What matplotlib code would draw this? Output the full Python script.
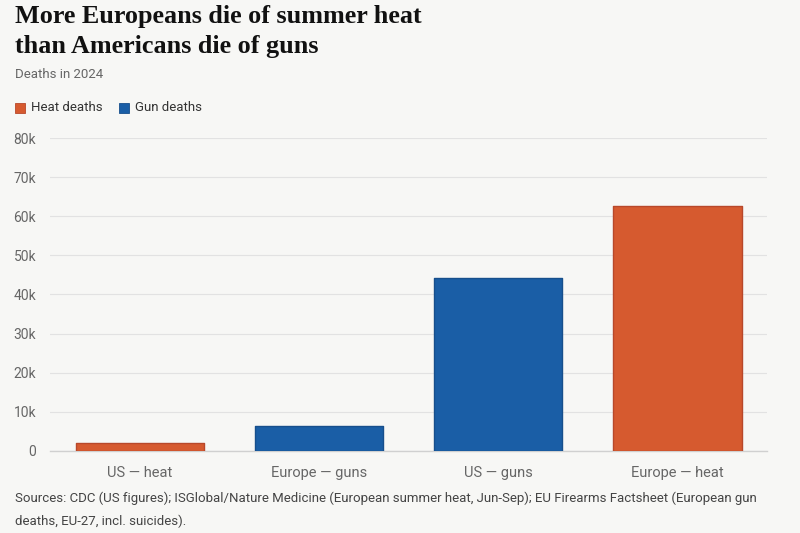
import matplotlib
matplotlib.use("Agg")
import matplotlib.pyplot as plt
from matplotlib.patches import Rectangle

# data
categories = ["US — heat", "Europe — guns", "US — guns", "Europe — heat"]
deaths = [2100, 6300, 44300, 62500]
kinds = ["heat", "gun", "gun", "heat"]
yticks = [0, 10000, 20000, 30000, 40000, 50000, 60000, 70000, 80000]
ytick_labels = ["0", "10k", "20k", "30k", "40k", "50k", "60k", "70k", "80k"]

colors = {"heat": "#d65a2f", "gun": "#1a5ea6"}
edges = {"heat": "#b8482a", "gun": "#174f8c"}
bg = "#f7f7f5"
sans = ["Liberation Sans Narrow", "Roboto", "DejaVu Sans"]

fig = plt.figure(figsize=(8, 5.33), dpi=100, facecolor=bg)
ax = fig.add_axes([0.0625, 0.154, 0.8965, 0.587])
ax.set_facecolor(bg)

x = range(len(categories))
ax.bar(x, deaths, width=0.715,
       color=[colors[k] for k in kinds],
       edgecolor=[edges[k] for k in kinds],
       linewidth=1.0, joinstyle="round", zorder=3)

ax.set_xlim(-0.5, len(categories) - 0.5)
ax.set_ylim(0, 80000)
ax.set_yticks(yticks)
ax.set_yticklabels(ytick_labels, family=sans, fontsize=10, color="#666666")
ax.set_xticks(list(x))
ax.set_xticklabels(categories, family=sans, fontsize=10.5, color="#666666")
ax.tick_params(axis="both", length=0)
ax.tick_params(axis="y", pad=10)
ax.tick_params(axis="x", pad=11)
ax.grid(axis="y", color="#e2e2e2", linewidth=0.8, zorder=0)
for s in ["top", "right", "left"]:
    ax.spines[s].set_visible(False)
ax.spines["bottom"].set_color("#d0d0d0")
ax.spines["bottom"].set_linewidth(1.0)

# titles
title_font = ["Liberation Serif", "DejaVu Serif"]
fig.text(15 / 800, 1 - 17 / 533, "More Europeans die of summer heat",
         family=title_font, weight="bold", fontsize=18.8, color="#111111",
         va="center", ha="left")
fig.text(15 / 800, 1 - 46 / 533, "than Americans die of guns",
         family=title_font, weight="bold", fontsize=18.8, color="#111111",
         va="center", ha="left")
fig.text(15 / 800, 1 - 75 / 533, "Deaths in 2024", family=["Roboto", "DejaVu Sans"],
         fontsize=9.5, color="#666666", va="center", ha="left")

# legend
for lx, lab, k in [(15, "Heat deaths", "heat"), (119, "Gun deaths", "gun")]:
    fig.patches.append(Rectangle((lx / 800, 1 - 113 / 533), 10 / 800, 10 / 533,
                                 transform=fig.transFigure, facecolor=colors[k],
                                 edgecolor=edges[k], linewidth=0.6))
    fig.text((lx + 16) / 800, 1 - 108 / 533, lab, family=["Roboto", "DejaVu Sans"],
             fontsize=9.5, color="#333333", va="center", ha="left")

# source note
fig.text(15 / 800, 1 - 498 / 533,
         "Sources: CDC (US figures); ISGlobal/Nature Medicine (European summer heat, Jun-Sep); EU Firearms Factsheet (European gun",
         family=sans, fontsize=9.5, color="#444444", va="center", ha="left")
fig.text(15 / 800, 1 - 521 / 533, "deaths, EU-27, incl. suicides).",
         family=sans, fontsize=9.5, color="#444444", va="center", ha="left")

fig.savefig("out.png", dpi=100, facecolor=bg)
